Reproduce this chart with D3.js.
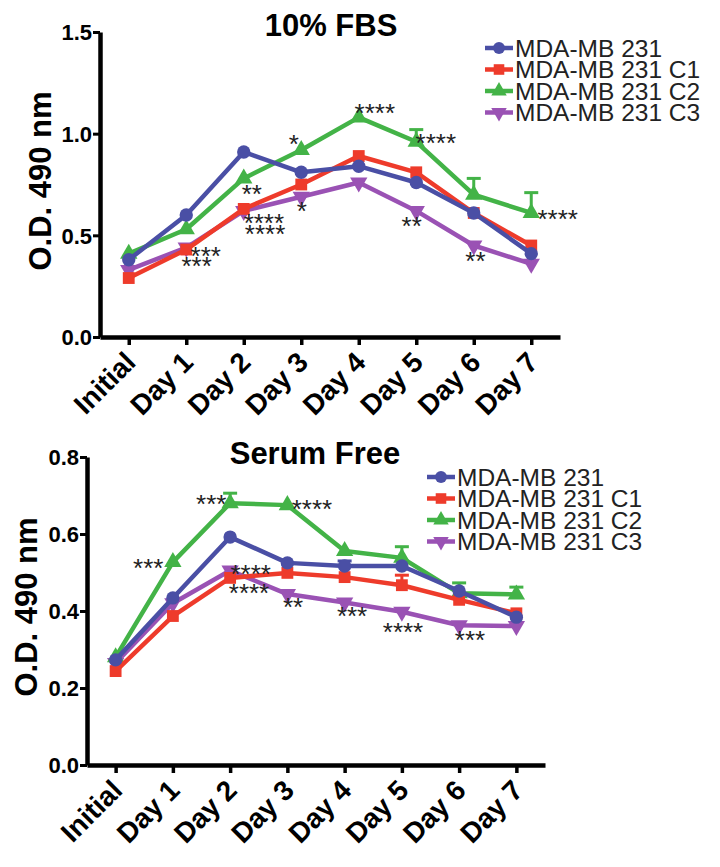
<!DOCTYPE html>
<html>
<head>
<meta charset="utf-8">
<script src="https://cdn.jsdelivr.net/npm/d3@7"></script>
<style>
  body { margin: 0; background: #fff; }
  text { font-family: 'Liberation Sans', Arial, sans-serif; }
</style>
</head>
<body>
<div class="canvas"></div>
<script>
// x categories
const days = ['Initial', 'Day 1', 'Day 2', 'Day 3', 'Day 4', 'Day 5', 'Day 6', 'Day 7']
const seriesNames = ['MDA-MB 231', 'MDA-MB 231 C1', 'MDA-MB 231 C2', 'MDA-MB 231 C3']

// 10% FBS panel
const fbsParental = [0.38, 0.60, 0.91, 0.81, 0.84, 0.76, 0.61, 0.41]
const fbsC1 = [0.29, 0.43, 0.63, 0.75, 0.89, 0.81, 0.61, 0.45]
const fbsC2 = [0.41, 0.53, 0.78, 0.92, 1.08, 0.96, 0.70, 0.61]
const fbsC3 = [0.33, 0.44, 0.62, 0.69, 0.76, 0.62, 0.45, 0.36]
const fbsC2Err = [0, 0, 0, 0, 0, 0.06, 0.08, 0.10]
const fbsTicks = [0, 0.5, 1.0, 1.5]
// significance marks: [day position, O.D. level, label]
const fbsStars = [
  [1.34, 0.428, '***'], [1.18, 0.379, '***'],
  [2.14, 0.733, '**'], [2.35, 0.59, '****'], [2.37, 0.536, '****'],
  [2.87, 0.979, '*'], [3.01, 0.649, '*'],
  [4.28, 1.131, '****'],
  [5.34, 0.984, '****'], [4.92, 0.576, '**'],
  [6.03, 0.403, '**'],
  [7.46, 0.61, '****']
]

// Serum free panel
const sfParental = [0.273, 0.434, 0.592, 0.525, 0.517, 0.517, 0.452, 0.384]
const sfC1 = [0.244, 0.387, 0.486, 0.499, 0.488, 0.467, 0.429, 0.394]
const sfC2 = [0.28, 0.527, 0.68, 0.675, 0.556, 0.538, 0.446, 0.443]
const sfC3 = [0.265, 0.42, 0.505, 0.444, 0.422, 0.398, 0.363, 0.361]
const sfParentalErr = [0, 0, 0, 0, 0.013, 0, 0, 0]
const sfC1Err = [0, 0, 0, 0, 0, 0.026, 0, 0]
const sfC2Err = [0, 0, 0.026, 0, 0, 0.029, 0.027, 0.019]
const sfTicks = [0, 0.2, 0.4, 0.6, 0.8]
const sfStars = [
  [0.57, 0.527, '***'],
  [1.67, 0.694, '***'], [2.36, 0.512, '****'], [2.33, 0.462, '****'],
  [3.43, 0.681, '****'], [3.10, 0.426, '**'],
  [4.13, 0.403, '***'],
  [5.02, 0.361, '****'],
  [6.19, 0.34, '***']
]

const colours = ['#4a4fa5', '#ee3b2b', '#43b347', '#9a52b4']
const shapes = [d3.symbolCircle, d3.symbolSquare, d3.symbolTriangle, d3.symbolTriangle]
const shapeSize = [140, 140, 130, 130]
const rotations = [0, 0, 0, 180]

const svg = d3.select('.canvas')
  .append('svg')
  .attr('width', 720)
  .attr('height', 867)

function drawPanel(p) {
  const g = svg.append('g')

  const x = d3.scaleLinear()
    .domain([-0.5, 7.5])
    .range([p.left, p.right])
  const y = d3.scaleLinear()
    .domain([0, p.max])
    .range([p.bottom, p.top])

  // axes
  const xAxis = g.append('g')
    .attr('transform', `translate(0, ${p.bottom})`)
    .call(d3.axisBottom(x).tickValues(d3.range(days.length)).tickFormat(i => days[i]).tickSize(8).tickSizeOuter(0))
  xAxis.select('.domain').attr('stroke-width', 4.5)
  xAxis.selectAll('.tick line').attr('stroke-width', 3.5)
  xAxis.selectAll('.tick text')
    .attr('font-size', 28)
    .attr('font-weight', 'bold')
    .attr('text-anchor', 'end')
    .attr('y', 0)
    .attr('dy', 0)
    .attr('transform', 'translate(8, 27) rotate(-45)')

  const yAxis = g.append('g')
    .attr('transform', `translate(${p.left}, 0)`)
    .call(d3.axisLeft(y).tickValues(p.ticks).tickFormat(d3.format('.1f')).tickSize(7).tickPadding(1).tickSizeOuter(0))
  yAxis.select('.domain').attr('stroke-width', 4.5)
  yAxis.selectAll('.tick line').attr('stroke-width', 3)
  yAxis.selectAll('.tick text')
    .attr('font-size', 22)
    .attr('font-weight', 'bold')
    .attr('dy', '0.36em')

  // titles
  g.append('text')
    .attr('x', p.titleX)
    .attr('y', p.titleY)
    .attr('text-anchor', 'middle')
    .attr('font-size', 31)
    .attr('font-weight', 'bold')
    .text(p.title)

  g.append('text')
    .attr('transform', `translate(${p.labelX}, ${p.labelY}) rotate(-90)`)
    .attr('text-anchor', 'middle')
    .attr('font-size', 31)
    .attr('font-weight', 'bold')
    .text('O.D. 490 nm')

  // series: draw purple first so blue ends on top
  const order = [3, 2, 1, 0]
  const line = d3.line()
    .x((d, i) => x(i))
    .y(d => y(d))

  order.forEach(s => {
    const vals = p.series[s]
    const errs = p.errors[s]
    const col = colours[s]

    if (errs) {
      const bars = g.append('g')
        .selectAll('g')
        .data(vals.map((v, i) => ({ i, v, e: errs[i] })).filter(d => d.e > 0))
        .enter()
        .append('g')
      bars.append('line')
        .attr('x1', d => x(d.i)).attr('x2', d => x(d.i))
        .attr('y1', d => y(d.v)).attr('y2', d => y(d.v + d.e))
        .attr('stroke', col).attr('stroke-width', 3)
      bars.append('line')
        .attr('x1', d => x(d.i) - 7).attr('x2', d => x(d.i) + 7)
        .attr('y1', d => y(d.v + d.e)).attr('y2', d => y(d.v + d.e))
        .attr('stroke', col).attr('stroke-width', 3)
    }

    g.append('path')
      .datum(vals)
      .attr('d', line)
      .attr('fill', 'none')
      .attr('stroke', col)
      .attr('stroke-width', 4.5)
      .attr('stroke-linejoin', 'round')

    g.append('g')
      .selectAll('path')
      .data(vals)
      .enter()
      .append('path')
      .attr('d', d3.symbol().type(shapes[s]).size(shapeSize[s]))
      .attr('transform', (d, i) => `translate(${x(i)}, ${y(d)}) rotate(${rotations[s]})`)
      .attr('fill', col)
  })

  // significance stars
  g.append('g')
    .selectAll('text')
    .data(p.stars)
    .enter()
    .append('text')
    .attr('x', d => x(d[0]))
    .attr('y', d => y(d[1]))
    .attr('dy', '0.57em')
    .attr('text-anchor', 'middle')
    .attr('font-size', 26)
    .attr('fill', '#222')
    .text(d => d[2])

  // legend
  const legend = g.append('g')
    .attr('transform', `translate(${p.legendX}, ${p.legendY})`)
  const rows = legend.selectAll('g')
    .data(seriesNames)
    .enter()
    .append('g')
    .attr('transform', (d, i) => `translate(0, ${i * 21.5})`)
  rows.append('line')
    .attr('x1', 0).attr('x2', 28)
    .attr('stroke', (d, i) => colours[i])
    .attr('stroke-width', 4.5)
  rows.append('path')
    .attr('d', (d, i) => d3.symbol().type(shapes[i]).size(shapeSize[i] * 0.8)())
    .attr('transform', (d, i) => `translate(14, 0) rotate(${rotations[i]})`)
    .attr('fill', (d, i) => colours[i])
  rows.append('text')
    .attr('x', 30)
    .attr('dy', '0.36em')
    .attr('font-size', 24.5)
    .attr('fill', '#222')
    .text(d => d)
}

drawPanel({
  title: '10% FBS', titleX: 331, titleY: 36,
  left: 100, right: 560, top: 32, bottom: 337, max: 1.5, ticks: fbsTicks,
  labelX: 51, labelY: 181,
  series: [fbsParental, fbsC1, fbsC2, fbsC3],
  errors: [null, null, fbsC2Err, null],
  stars: fbsStars,
  legendX: 485, legendY: 48
})

drawPanel({
  title: 'Serum Free', titleX: 315, titleY: 464,
  left: 87, right: 545, top: 457, bottom: 765, max: 0.8, ticks: sfTicks,
  labelX: 37, labelY: 607,
  series: [sfParental, sfC1, sfC2, sfC3],
  errors: [sfParentalErr, sfC1Err, sfC2Err, null],
  stars: sfStars,
  legendX: 427, legendY: 477
})
</script>
</body>
</html>
